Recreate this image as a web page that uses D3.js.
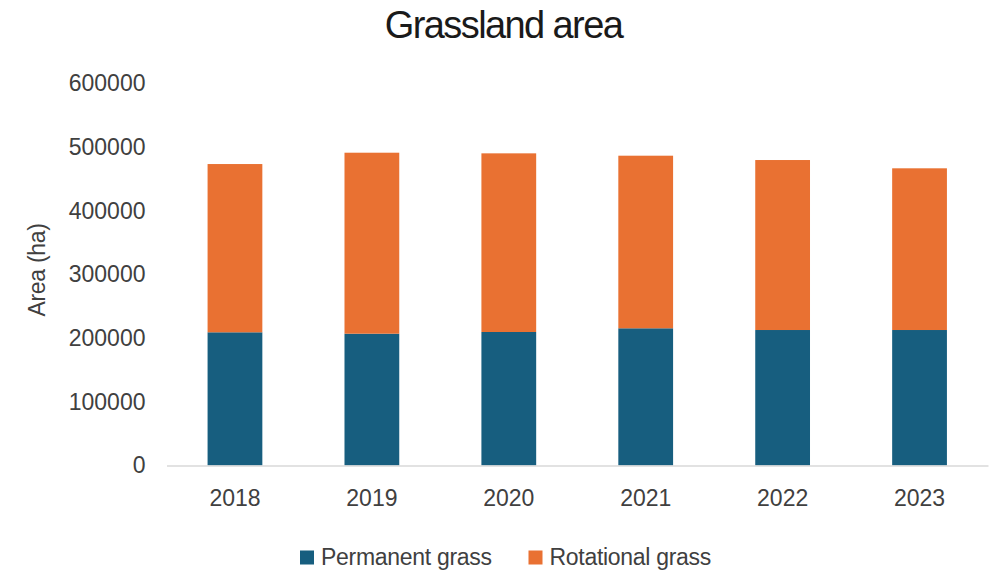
<!DOCTYPE html>
<html>
<head>
<meta charset="utf-8">
<script src="https://cdn.jsdelivr.net/npm/d3@7"></script>
<style>
  body { margin: 0; background: #fff; }
  text { font-family: "Liberation Sans", Arial, sans-serif; fill: #404040; }
</style>
</head>
<body>
<div id="chart"></div>
<script>
const years = ["2018", "2019", "2020", "2021", "2022", "2023"];
const permanentGrass = [209200, 207000, 209700, 215500, 212800, 212800];
const rotationalGrass = [264300, 284300, 280600, 271100, 267000, 254000];
const seriesNames = ["Permanent grass", "Rotational grass"];
const seriesColors = ["#175e7f", "#e97132"];
const yTicks = [0, 100000, 200000, 300000, 400000, 500000, 600000];

const widthValue = 997;
const heightValue = 571;
const margin = { top: 83.5, left: 166.5, bottom: 105.5, right: 9 };
const width = widthValue - margin.left - margin.right;
const height = heightValue - margin.top - margin.bottom;

const svg = d3.select("#chart").append("svg")
  .attr("width", widthValue)
  .attr("height", heightValue);

const g = svg.append("g").attr("transform", `translate(${margin.left},${margin.top})`);

const rows = years.map((yr, i) => ({ year: yr, "Permanent grass": permanentGrass[i], "Rotational grass": rotationalGrass[i] }));
const stacked = d3.stack().keys(seriesNames)(rows);

const x = d3.scaleBand().domain(years).range([0, width]).paddingInner(0.6).paddingOuter(0.3);
const y = d3.scaleLinear().domain([0, 600000]).range([height, 0]);

// bars
g.selectAll("g.series")
  .data(stacked)
  .enter()
  .append("g")
  .attr("class", "series")
  .attr("fill", (d, i) => seriesColors[i])
  .selectAll("rect")
  .data(d => d)
  .enter()
  .append("rect")
  .attr("x", d => x(d.data.year))
  .attr("y", d => y(d[1]))
  .attr("width", x.bandwidth())
  .attr("height", d => y(d[0]) - y(d[1]));

// x axis
const xAxis = g.append("g")
  .attr("transform", `translate(0,${height})`)
  .call(d3.axisBottom(x).tickSize(0).tickPadding(24));
xAxis.select(".domain").attr("stroke", "#d9d9d9").attr("stroke-width", 1.5);
xAxis.selectAll("text").style("font-size", "23px").attr("fill", "#404040");

// y axis
const yAxis = g.append("g")
  .call(d3.axisLeft(y).tickValues(yTicks).tickSize(0).tickPadding(21).tickFormat(d3.format("d")));
yAxis.select(".domain").remove();
yAxis.selectAll("text").style("font-size", "23px").attr("fill", "#404040");

// title
svg.append("text")
  .attr("x", 503.5)
  .attr("y", 38)
  .attr("text-anchor", "middle")
  .style("font-size", "38px")
  .style("letter-spacing", "-1.6px")
  .style("fill", "#1a1a1a")
  .text("Grassland area");

// y label
svg.append("text")
  .attr("transform", "translate(45,270) rotate(-90)")
  .attr("text-anchor", "middle")
  .style("font-size", "23px")
  .style("letter-spacing", "-0.3px")
  .text("Area (ha)");

// legend
const legendX = [300, 528.5];
const legend = svg.selectAll("g.legend")
  .data(seriesNames)
  .enter()
  .append("g")
  .attr("class", "legend")
  .attr("transform", (d, i) => `translate(${legendX[i]},550.5)`);
legend.append("rect")
  .attr("width", 14)
  .attr("height", 14)
  .attr("fill", (d, i) => seriesColors[i]);
legend.append("text")
  .attr("x", 21)
  .attr("y", 14)
  .style("font-size", "23px")
  .style("letter-spacing", "-0.3px")
  .text(d => d);
</script>
</body>
</html>
